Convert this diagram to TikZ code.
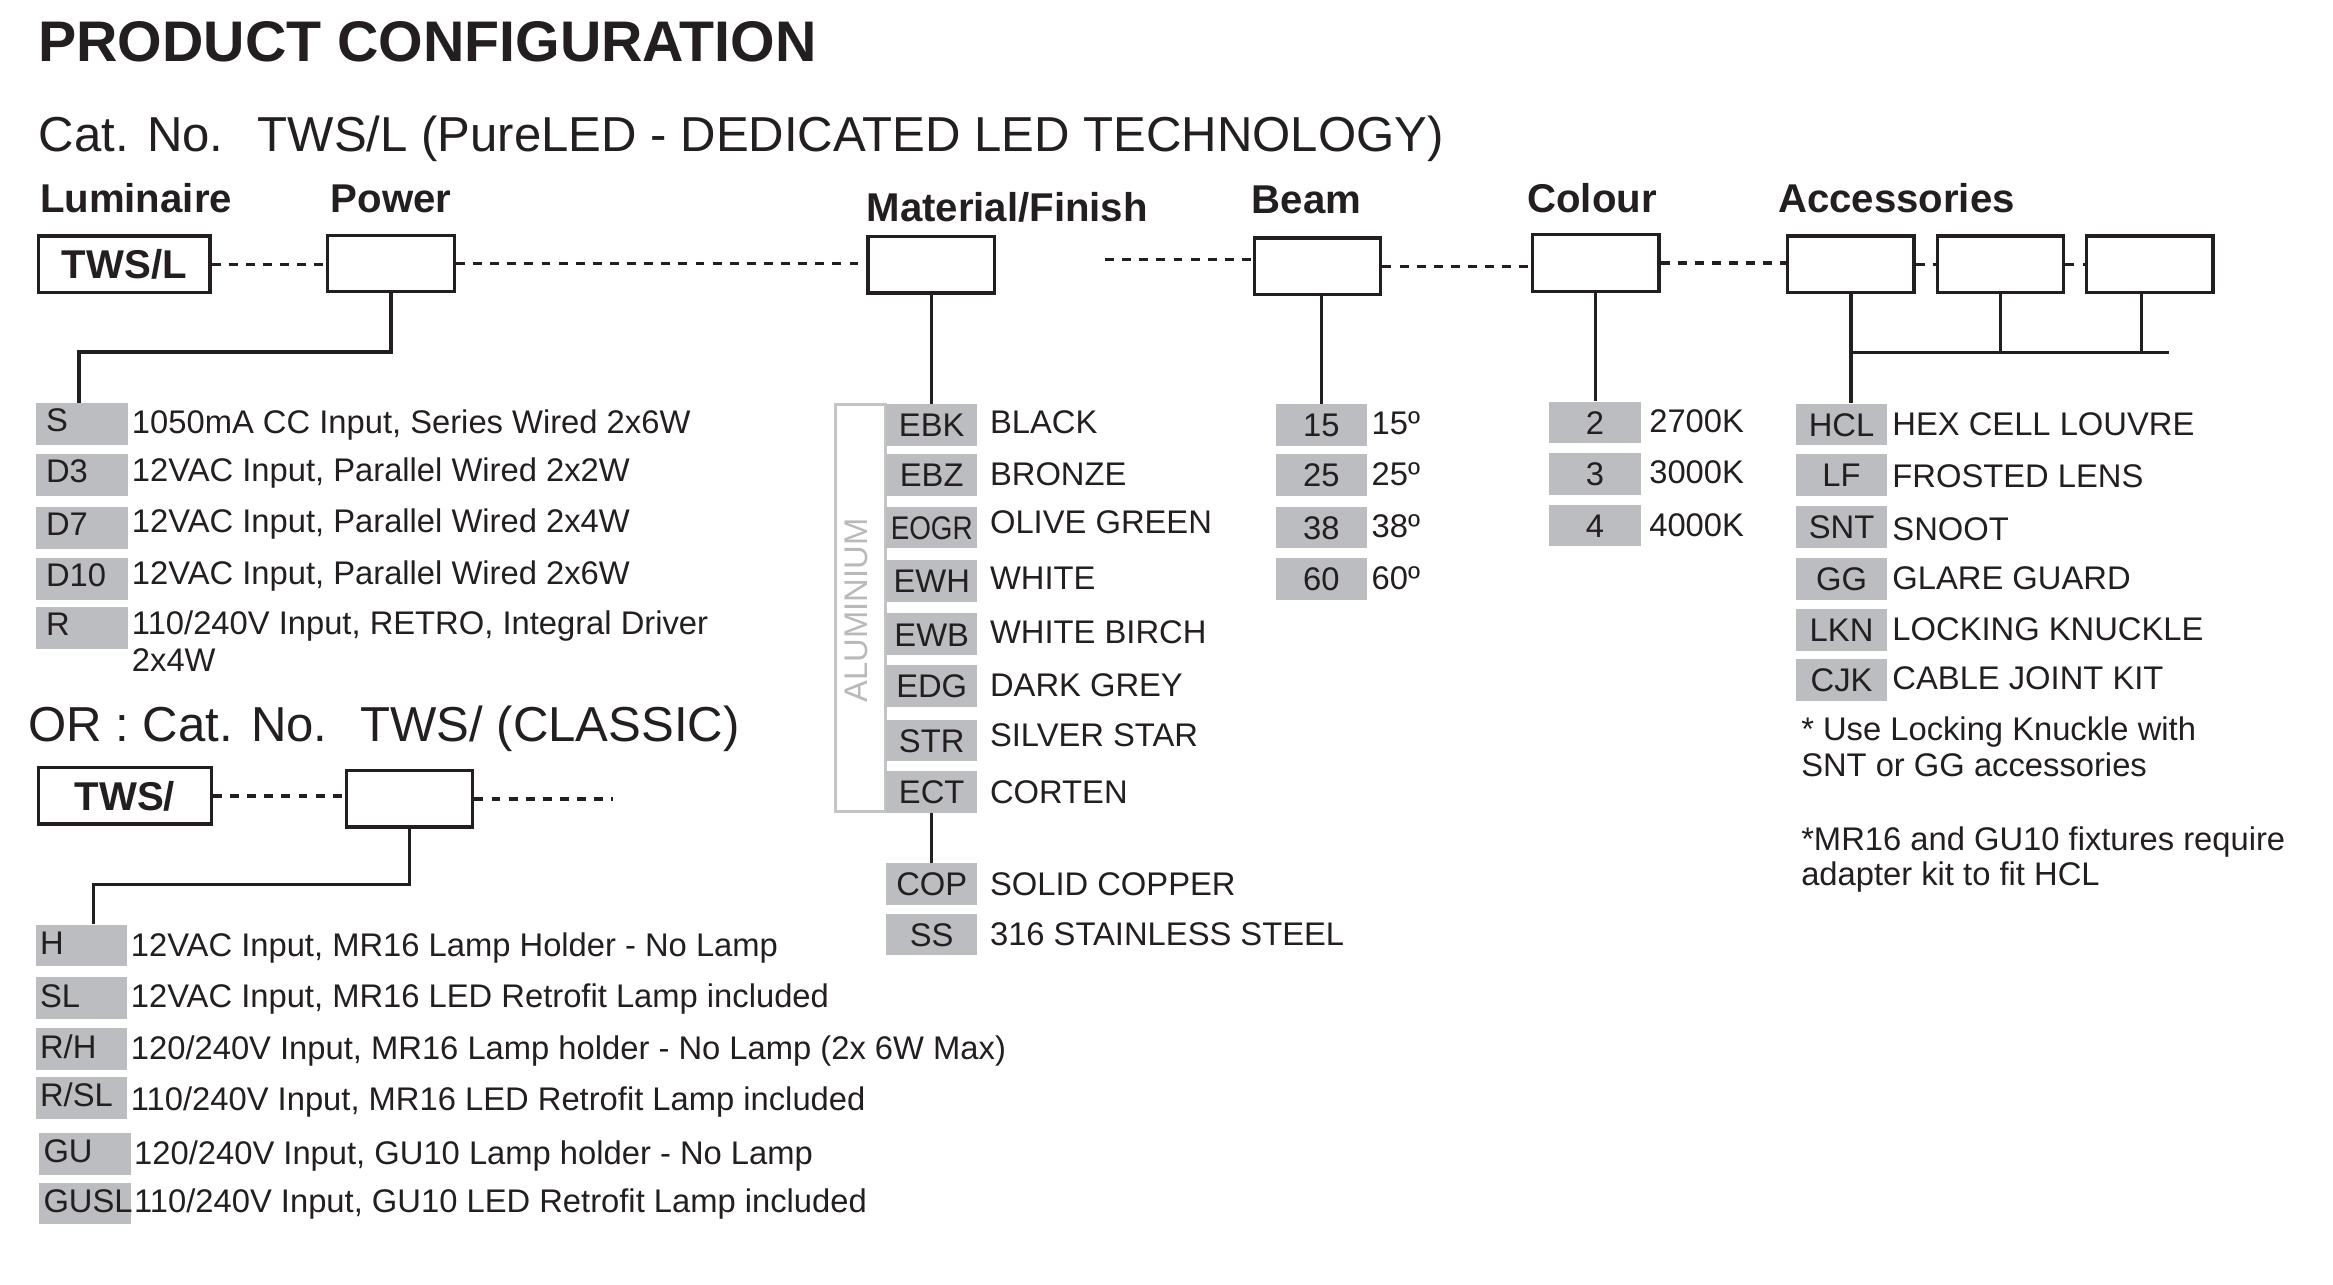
\documentclass[tikz,border=0pt]{standalone}
\usepackage{fontspec}
\usepackage{graphicx}
\setmainfont{Liberation Sans}
\definecolor{ink}{RGB}{35,31,32}
\definecolor{codegrey}{RGB}{188,189,192}
\definecolor{brgrey}{RGB}{196,196,196}
\definecolor{alutext}{RGB}{185,185,185}
\newcommand\fsz[1]{\fontsize{#1}{#1}\selectfont}
\begin{document}
\begin{tikzpicture}[x=1pt,y=-1pt,
  every node/.style={text=ink},
  txt/.style={anchor=base west, inner sep=0pt, font=\fsz{22}},
  hdr/.style={anchor=base west, inner sep=0pt, font=\fsz{27}\bfseries},
  optbox/.style={draw=ink, line width=2.3pt, minimum width=85pt, minimum height=38pt, inner sep=0pt, font=\fsz{27}\bfseries},
  conn/.style={draw=ink, line width=2.3pt},
  dotline/.style={draw=ink, line width=2.3pt, dash pattern=on 6pt off 5.5pt},
  codebox/.style={fill=codegrey, minimum width=61.5pt, minimum height=28pt, inner sep=0pt, font=\fsz{22}, text height=15.75pt, text depth=0pt},
  pcode/.style={codebox, text depth=5.75pt, text width=48.5pt, align=left, inner xsep=6.5pt},
  ccode/.style={codebox, text depth=3.75pt, text width=55.5pt, align=left, inner xsep=3pt}
]
\path[fill=white, use as bounding box] (0,0) rectangle (1568,863.6);

% titles
\node[anchor=base west, inner sep=0pt, font=\fsz{38.5}\bfseries] (title) at (25.5,41.4) {PRODUCT CONFIGURATION};
\node[anchor=base west, inner sep=0pt, font=\fsz{33}] (catno) at (26,101.9) {Cat. No.\hspace{23pt}TWS/L (PureLED - DEDICATED LED TECHNOLOGY)};

% headers
\node[hdr] (hLum) at (26.7,142.7) {Luminaire};
\node[hdr] (hPow) at (222.2,142.7) {Power};
\node[hdr] (hMat) at (582.2,148.8) {Material/Finish};
\node[hdr] (hBeam) at (841.1,143.7) {Beam};
\node[hdr] (hCol) at (1026.3,142.6) {Colour};
\node[hdr] (hAcc) at (1194.8,142.6) {Accessories};

% option boxes
\node[optbox, minimum width=115.4pt] (tws) at (83.5,177.6) {TWS/L};
\node[optbox] (pw) at (262.8,177.1) {};
\node[optbox] (mf) at (626,178) {};
\node[optbox] (bm) at (885.5,179.1) {};
\node[optbox] (cl) at (1072.5,176.8) {};
\node[optbox] (a1) at (1243.9,177.7) {};
\node[optbox] (a2) at (1344.5,177.7) {};
\node[optbox] (a3) at (1444.9,177.7) {};

% dotted links
\coordinate (bmgap) at (742.7,174.5);
\draw[dotline] (tws.east) -- (tws.east -| pw.west);
\draw[dotline] (pw.east) -- (pw.east -| mf.west);
\draw[dotline] (bmgap) -- (bmgap -| bm.west);
\draw[dotline] (bm.east) -- (bm.east -| cl.west);
\draw[dotline] (cl.east) -- (cl.east -| a1.west);
\draw[dotline] (a1.east) -- (a1.east -| a2.west);
\draw[dotline] (a2.east) -- (a2.east -| a3.west);

% power list
\node[pcode] (pS) at (55.2,284.9) {S};
\node[pcode] (pD3) at (55.2,319.3) {D3};
\node[pcode] (pD7) at (55.2,354.8) {D7};
\node[pcode] (pD10) at (55.2,389) {D10};
\node[pcode] (pR) at (55.2,422) {R};
\node[txt] (dS) at (88.5,291.3) {1050mA CC Input, Series Wired 2x6W};
\node[txt] (dD3) at (88.5,323.6) {12VAC Input, Parallel Wired 2x2W};
\node[txt] (dD7) at (88.5,357.8) {12VAC Input, Parallel Wired 2x4W};
\node[txt] (dD10) at (88.5,393.1) {12VAC Input, Parallel Wired 2x6W};
\node[txt] (dR) at (88.5,426.6) {110/240V Input, RETRO, Integral Driver};
\node[txt] (dR2) at (88.5,451.4) {2x4W};
\coordinate (pj) at (53.2,236.6);
\draw[conn] (pw.south) |- (pj) -- (pj |- pS.north);

% material list
\node[draw=brgrey, line width=2.2pt, minimum width=33.7pt, minimum height=273.5pt, inner sep=0pt] (alu) at (578.2,408.7) {};
\node[rotate=90, inner sep=0pt, font=\fsz{22}, text=alutext] (alutxt) at (575.4,410.3) {ALUMINIUM};
\node[codebox] (mEBK) at (626.2,285.5) {EBK};
\node[codebox] (mEBZ) at (626.2,319.3) {EBZ};
\node[codebox] (mEOGR) at (626.2,354.6) {\scalebox{0.85}[1]{EOGR}};
\node[codebox] (mEWH) at (626.2,390.6) {EWH};
\node[codebox] (mEWB) at (626.2,426.3) {EWB};
\node[codebox] (mEDG) at (626.2,461.2) {EDG};
\node[codebox] (mSTR) at (626.2,497.7) {STR};
\node[codebox] (mECT) at (626.2,532.4) {ECT};
\node[codebox] (mCOP) at (626.2,594.3) {COP};
\node[codebox] (mSS) at (626.2,628.1) {SS};
\node[txt] (dEBK) at (665.2,291.2) {BLACK};
\node[txt] (dEBZ) at (665.2,326.1) {BRONZE};
\node[txt] (dEOGR) at (665.2,358.7) {OLIVE GREEN};
\node[txt] (dEWH) at (665.2,396.4) {WHITE};
\node[txt] (dEWB) at (665.2,432.7) {WHITE BIRCH};
\node[txt] (dEDG) at (665.2,468.4) {DARK GREY};
\node[txt] (dSTR) at (665.2,502) {SILVER STAR};
\node[txt] (dECT) at (665.2,539.7) {CORTEN};
\node[txt] (dCOP) at (665.2,602.1) {SOLID COPPER};
\node[txt] (dSS) at (665.2,635.7) {316 STAINLESS STEEL};
\draw[conn] (mf.south) -- (mf.south |- mEBK.north);
\draw[conn] (mECT.south) -- (mCOP.north);

% beam list
\node[codebox] (b15) at (888.1,285.5) {15};
\node[codebox] (b25) at (888.1,319.3) {25};
\node[codebox] (b38) at (888.1,354.6) {38};
\node[codebox] (b60) at (888.1,389.2) {60};
\node[txt] (d15) at (921.7,292.3) {15º};
\node[txt] (d25) at (921.7,326.2) {25º};
\node[txt] (d38) at (921.7,361.5) {38º};
\node[txt] (d60) at (921.7,396) {60º};
\draw[conn] (b15.north |- bm.south) -- (b15.north);

% colour list
\node[codebox] (c2) at (1072,284) {2};
\node[codebox] (c3) at (1072,318.5) {3};
\node[codebox] (c4) at (1072,353.2) {4};
\node[txt] (d2) at (1108.3,290.5) {2700K};
\node[txt] (d3) at (1108.3,324.9) {3000K};
\node[txt] (d4) at (1108.3,360.6) {4000K};
\draw[conn] (cl.south) -- (cl.south |- c2.north);

% accessories list
\node[codebox] (aHCL) at (1237.7,285.2) {HCL};
\node[codebox] (aLF) at (1237.7,319.4) {LF};
\node[codebox] (aSNT) at (1237.7,354.3) {SNT};
\node[codebox] (aGG) at (1237.7,389) {GG};
\node[codebox] (aLKN) at (1237.7,423.2) {LKN};
\node[codebox] (aCJK) at (1237.7,457.1) {CJK};
\node[txt] (dHCL) at (1271.7,292.7) {HEX CELL LOUVRE};
\node[txt] (dLF) at (1271.7,327.4) {FROSTED LENS};
\node[txt] (dSNT) at (1271.7,363.2) {SNOOT};
\node[txt] (dGG) at (1271.7,395.9) {GLARE GUARD};
\node[txt] (dLKN) at (1271.7,430.3) {LOCKING KNUCKLE};
\node[txt] (dCJK) at (1271.7,463.4) {CABLE JOINT KIT};
\node[txt] (n1) at (1210.4,497.7) {* Use Locking Knuckle with};
\node[txt] (n2) at (1210.4,521.9) {SNT or GG accessories};
\node[txt] (n3) at (1210.4,571.7) {*MR16 and GU10 fixtures require};
\node[txt] (n4) at (1210.4,595.2) {adapter kit to fit HCL};
\coordinate (abus) at (1458,236.8);
\coordinate (a3drop) at (1439.2,0);
\draw[conn] (a1.south) |- (abus);
\draw[conn] (a2.south) -- (a2.south |- abus);
\draw[conn] (a3drop |- a3.south) -- (a3drop |- abus);
\draw[conn] (a1.south |- abus) -- (a1.south |- aHCL.north);

% classic
\node[anchor=base west, inner sep=0pt, font=\fsz{33}] (ortitle) at (18.9,498.6) {OR : Cat. No.\hspace{22pt}TWS/ (CLASSIC)};
\node[optbox, minimum width=116.2pt] (tws2) at (83.9,534.9) {TWS/};
\node[optbox] (cb) at (275.2,536.9) {};
\coordinate (cend) at (411.8,535.7);
\draw[dotline] (tws2.east) -- (tws2.east -| cb.west);
\draw[dotline] (cb.east) -- (cb.east -| cend);
\node[ccode] (cH) at (54.7,635.4) {H};
\node[ccode] (cSL) at (54.7,670.8) {SL};
\node[ccode] (cRH) at (54.7,705.2) {R/H};
\node[ccode] (cRSL) at (54.7,737.8) {R/SL};
\node[ccode] (cGU) at (57,775.4) {GU};
\node[ccode] (cGUSL) at (57,808.8) {GUSL};
\node[txt] (dH) at (87.8,643) {12VAC Input, MR16 Lamp Holder - No Lamp};
\node[txt] (dSL) at (87.8,677.3) {12VAC Input, MR16 LED Retrofit Lamp included};
\node[txt] (dRH) at (87.8,712.4) {120/240V Input, MR16 Lamp holder - No Lamp (2x 6W Max)};
\node[txt] (dRSL) at (87.8,746.3) {110/240V Input, MR16 LED Retrofit Lamp included};
\node[txt] (dGU) at (90,782.7) {120/240V Input, GU10 Lamp holder - No Lamp};
\node[txt] (dGUSL) at (90,815.2) {110/240V Input, GU10 LED Retrofit Lamp included};
\coordinate (cj) at (63,594.6);
\draw[conn] (cb.south) |- (cj) -- (cj |- cH.north);
\end{tikzpicture}
\end{document}
